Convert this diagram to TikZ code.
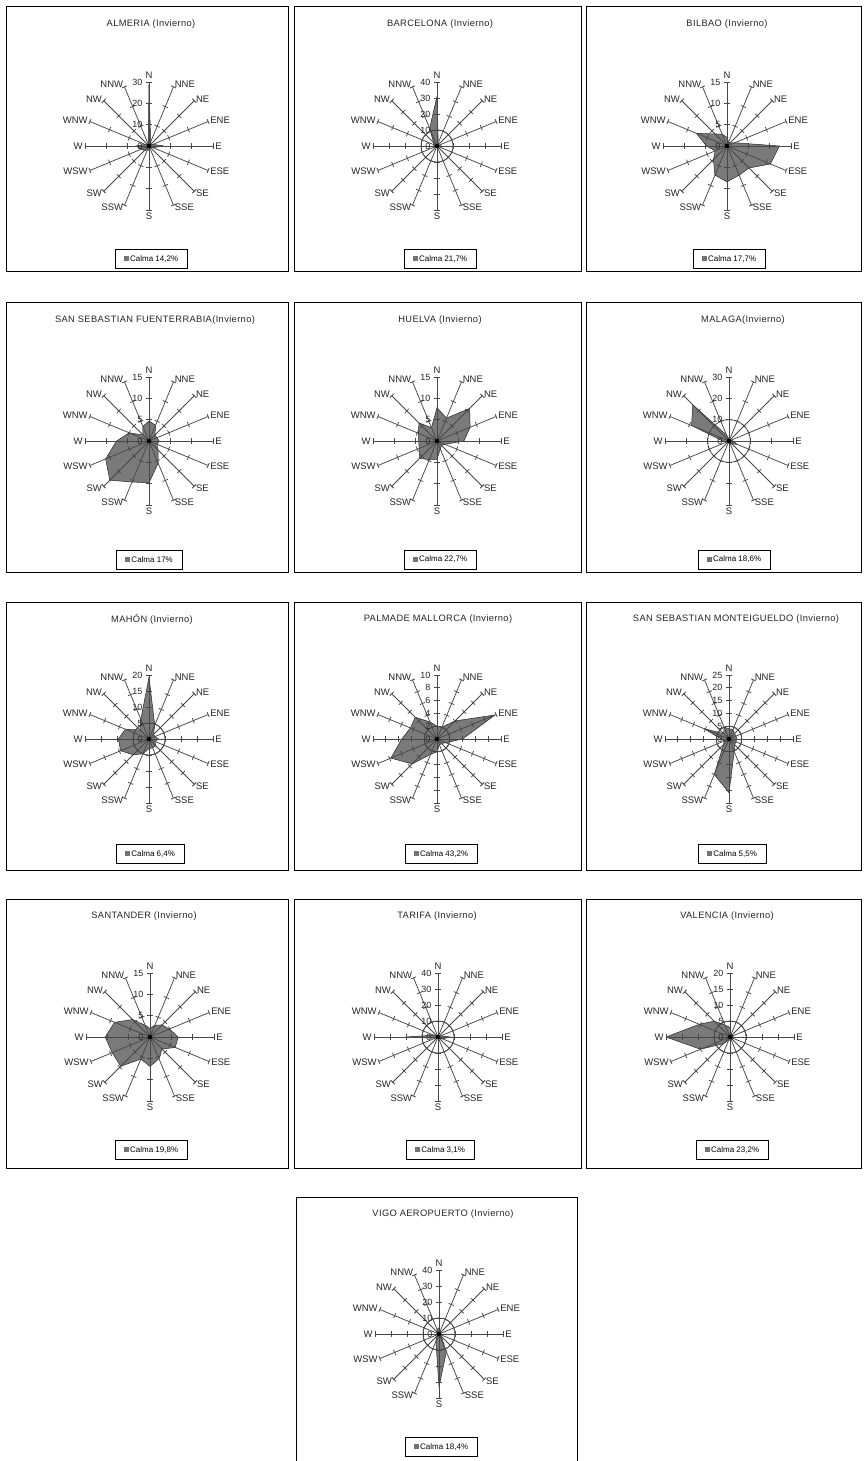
\documentclass[tikz,border=0pt]{standalone}
\usepackage{fontspec}
\setmainfont{Liberation Sans}
\newfontfamily\ttlfont[LetterSpace=4]{Liberation Sans}
\tikzset{
 spoke/.style={draw=black!72, line width=0.75pt},
 poly/.style={fill=black!52, draw=black!85, line width=0.5pt, line join=round},
 dirlab/.style={font=\fontsize{9.5}{10}\selectfont, inner sep=0.6pt, text=black!85},
 numlab/.style={font=\fontsize{9}{10}\selectfont, inner sep=0.5pt, anchor=east, text=black!85},
 ttl/.style={font=\ttlfont\fontsize{9.3}{10}\selectfont, text=black!85, inner sep=0pt},
 calmabox/.style={draw=black, line width=0.6pt, fill=white, minimum height=19pt, inner xsep=9pt, font=\fontsize{8}{9}\selectfont},
 panel/.style={draw=black, line width=0.8pt},
}
\newcommand{\calmamark}{{\color{black!55}\rule{5pt}{5pt}}\,}
% #1 id, #2 cx, #3 cy, #4 max, #5 nticks, #6 data, #7 circle flag
\newcommand{\windrose}[7]{%
 \coordinate (#1c) at (#2,#3);
 \foreach \v [count=\i from 0] in {#6} {
  \coordinate (#1p\i) at ({#2+\v/#4*64*cos(90-22.5*\i)},{#3-\v/#4*64*sin(90-22.5*\i)});
 }
 \filldraw[poly] (#1p0) \foreach \j in {1,...,15} { -- (#1p\j) } -- cycle;
 \ifnum#7=1 \pgfmathsetmacro\crad{64/#5}\draw[spoke] (#1c) circle[radius=\crad pt];\fi
 \foreach \lab/\anc [count=\i from 0] in {N/south,NNE/west,NE/west,ENE/west,E/west,ESE/west,SE/west,SSE/west,S/north,SSW/east,SW/east,WSW/east,W/east,WNW/east,NW/east,NNW/east} {
  \pgfmathsetmacro\a{90-22.5*\i}
  \coordinate (#1t\i) at ({#2+64*cos(\a)},{#3-64*sin(\a)});
  \draw[spoke] (#1c) -- (#1t\i);
  \foreach \k in {1,...,#5} {
   \pgfmathsetmacro\r{64*\k/#5}
   \draw[spoke] ({#2+\r*cos(\a)-2.8*sin(\a)},{#3-\r*sin(\a)-2.8*cos(\a)}) -- ({#2+\r*cos(\a)+2.8*sin(\a)},{#3-\r*sin(\a)+2.8*cos(\a)});
  }
  \node[dirlab, anchor=\anc] (#1l\i) at ({#2+65.5*cos(\a)},{#3-66.5*sin(\a)}) {\lab};
 }
 \foreach \k in {0,...,#5} {
  \pgfmathtruncatemacro\val{round(\k*#4/#5)}
  \node[numlab] (#1n\k) at ({#2-6},{#3-64*\k/#5}) {\val};
 }
 \fill[black] (#1c) circle[radius=2.3pt];
}
\begin{document}
\begin{tikzpicture}[x=1pt,y=-1pt]
\useasboundingbox (0,0) rectangle (863,1461);
\fill[white] (0,0) rectangle (863,1461);
% panel frames
\draw[panel] (6,6) rectangle (288,271);
\draw[panel] (294,6) rectangle (581,271);
\draw[panel] (586,6) rectangle (861,271);
\draw[panel] (6,302) rectangle (288,572);
\draw[panel] (294,302) rectangle (581,572);
\draw[panel] (586,302) rectangle (861,572);
\draw[panel] (6,602) rectangle (288,870);
\draw[panel] (294,602) rectangle (581,870);
\draw[panel] (586,602) rectangle (861,870);
\draw[panel] (6,899) rectangle (288,1168);
\draw[panel] (294,899) rectangle (581,1168);
\draw[panel] (586,899) rectangle (861,1168);
\draw[panel] (296,1462) -- (296,1197) -- (577,1197) -- (577,1462);
% roses
\windrose{alm}{149}{146}{30}{3}{29,2,1,2,7,2,1,1,2,2,3,4,6,2,1,1}{0}
\windrose{bcn}{437}{146}{40}{4}{31,2,1,1,3,1,1,1,1,1,1,1,2,2,3,12}{1}
\windrose{bil}{727}{146}{15}{3}{2,1,1,2,12.3,11,7.3,7.4,8.4,7.4,4.5,3,4.8,7.8,4,3}{0}
\windrose{ssf}{149}{441}{15}{3}{4.7,4,2,2,2.4,2,3,5.6,9.8,10.4,13,11,7.6,5,2,3.7}{0}
\windrose{hue}{437}{441}{15}{3}{7.8,5.8,10.8,8.4,6.3,2,1.5,2,4.3,4.7,5.8,4.5,4.3,4.7,6,3.4}{0}
\windrose{mal}{729}{441}{30}{3}{1,1,1,1,2,4,2,1,1,1,1,1,3,19,24,3}{1}
\windrose{mah}{149}{739}{20}{4}{19.3,4.7,2,2,3,2,3,3,3,5,7,9.6,9.6,8,4,6.7}{1}
\windrose{pal}{437}{739}{10}{5}{2,2,4,9.8,4,1.5,1,1,2,2.6,5.5,7.8,5.5,4.5,4.8,2.9}{1}
\windrose{ssm}{729}{739}{25}{5}{4,4,3,3,3,3,3,5.3,21,15,3,2,3,10.6,3,5}{1}
\windrose{san}{150}{1037}{15}{3}{2,3,4,4.9,6.6,6.4,4,5.5,6.9,5.6,9.7,9.6,10.5,9,5.8,3}{0}
\windrose{tar}{438}{1037}{40}{4}{1,1,1,2,8,3,1,1,1,1,1,2,20,3,1,1}{1}
\windrose{val}{730}{1037}{20}{4}{3,1,1,1,1,1,1,1,1,1,3,10,20,10.4,7,4}{1}
\windrose{vig}{439}{1334}{40}{4}{4,2,1,1,1,1,2,12,33,5,2,1,1,1,2,3}{1}
% titles
\node[ttl] (almT) at (151,24) {ALMERIA (Invierno)};
\node[ttl] (bcnT) at (440,24) {BARCELONA (Invierno)};
\node[ttl] (bilT) at (727,24) {BILBAO (Invierno)};
\node[ttl] (ssfT) at (155,320) {SAN SEBASTIAN FUENTERRABIA(Invierno)};
\node[ttl] (hueT) at (440,320) {HUELVA (Invierno)};
\node[ttl] (malT) at (743,320) {MALAGA(Invierno)};
\node[ttl] (mahT) at (152,619) {MAHÓN (Invierno)};
\node[ttl] (palT) at (438,619) {PALMADE MALLORCA (Invierno)};
\node[ttl] (ssmT) at (736,619) {SAN SEBASTIAN MONTEIGUELDO (Invierno)};
\node[ttl] (sanT) at (144,916) {SANTANDER (Invierno)};
\node[ttl] (tarT) at (437,916) {TARIFA (Invierno)};
\node[ttl] (valT) at (727,916) {VALENCIA (Invierno)};
\node[ttl] (vigT) at (443,1214) {VIGO AEROPUERTO (Invierno)};
% calma boxes
\node[calmabox] (almC) at (151,259) {\calmamark Calma 14,2\%};
\node[calmabox] (bcnC) at (440,259) {\calmamark Calma 21,7\%};
\node[calmabox] (bilC) at (729,259) {\calmamark Calma 17,7\%};
\node[calmabox] (ssfC) at (149,559.5) {\calmamark Calma 17\%};
\node[calmabox] (hueC) at (440,559.5) {\calmamark Calma 22,7\%};
\node[calmabox] (malC) at (734,559.5) {\calmamark Calma 18,6\%};
\node[calmabox] (mahC) at (150,854) {\calmamark Calma 6,4\%};
\node[calmabox] (palC) at (441,854) {\calmamark Calma 43,2\%};
\node[calmabox] (ssmC) at (732,854) {\calmamark Calma 5,5\%};
\node[calmabox] (sanC) at (151,1150) {\calmamark Calma 19,8\%};
\node[calmabox] (tarC) at (440,1150) {\calmamark Calma 3,1\%};
\node[calmabox] (valC) at (732,1150) {\calmamark Calma 23,2\%};
\node[calmabox] (vigC) at (441,1447) {\calmamark Calma 18,4\%};
\end{tikzpicture}
\end{document}
